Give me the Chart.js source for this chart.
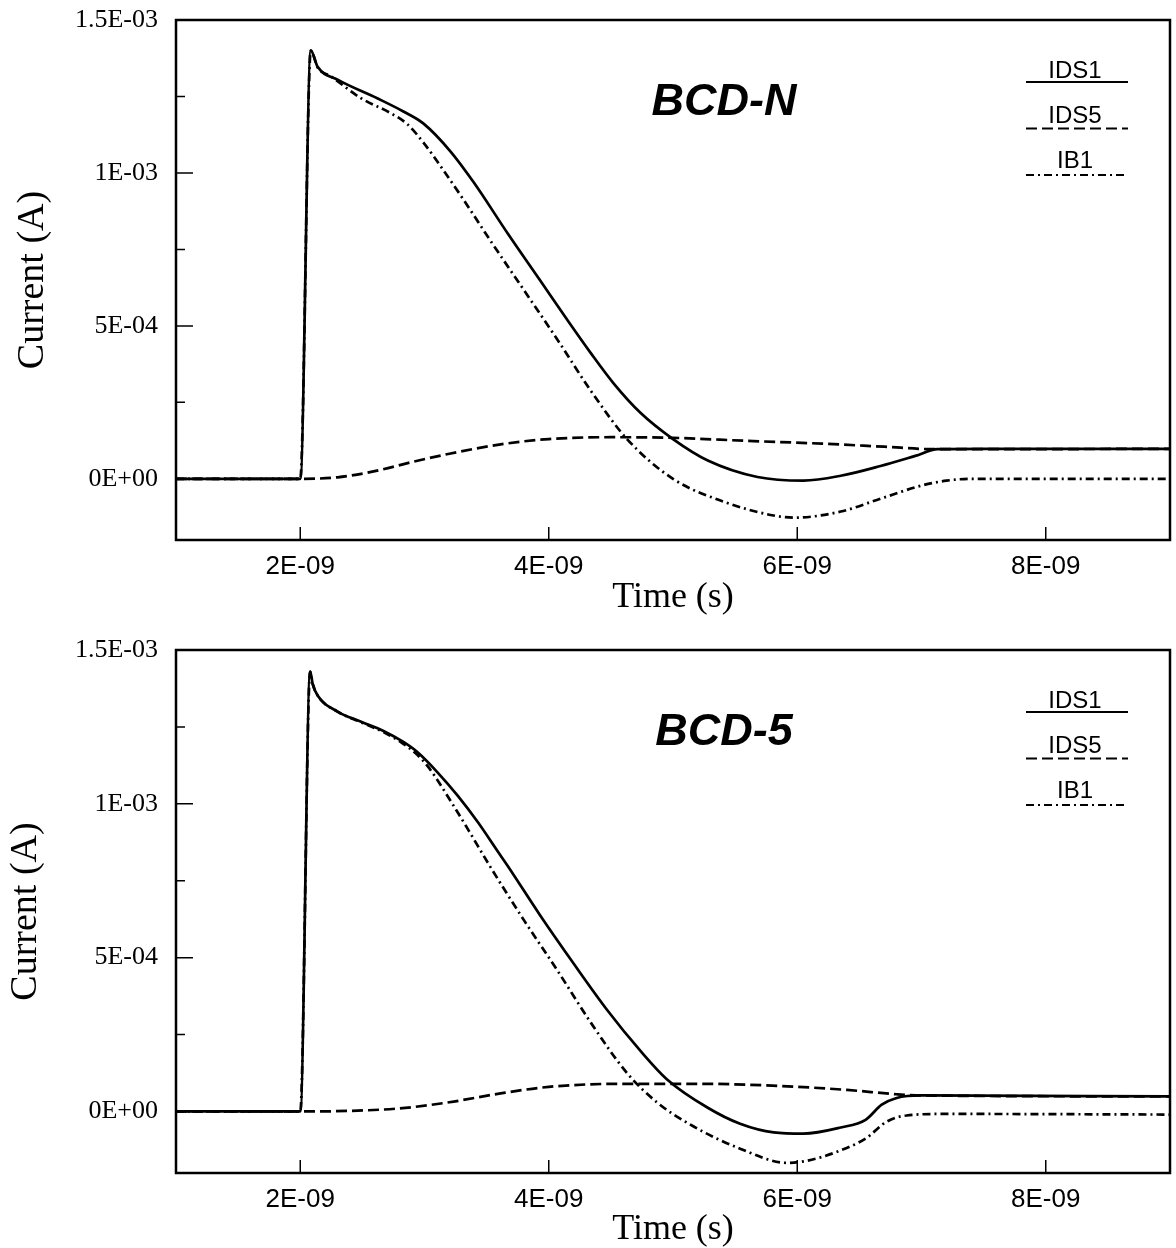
<!DOCTYPE html>
<html>
<head>
<meta charset="utf-8">
<title>BCD-N / BCD-5 transient currents</title>
<script src="https://cdn.jsdelivr.net/npm/chart.js@4.4.0/dist/chart.umd.min.js"></script>
<style>
  html, body { margin: 0; padding: 0; background: #fff; }
  .panel { position: relative; width: 1176px; height: 624px; }
  canvas { display: block; }
</style>
</head>
<body>
<div class="panel"><canvas id="chartN" width="1176" height="624"></canvas></div>
<div class="panel"><canvas id="chart5" width="1176" height="624"></canvas></div>
<script>
// units: time in ns, current in mA (converted to s / A when plotted)
const NS = 1e-9;
const MA = 1e-3;

const seriesNames = ['IDS1', 'IDS5', 'IB1'];
const xTicks = [2, 4, 6, 8];
const xTickLabels = ['2E-09', '4E-09', '6E-09', '8E-09'];
const yTicks = [0, 0.5, 1.0, 1.5];
const yTickLabels = ['0E+00', '5E-04', '1E-03', '1.5E-03'];
const yMinorTicks = [0.25, 0.75, 1.25];

// --- BCD-N (top) ---
const nIds1Time = [1.0, 2.0, 2.085, 2.14, 2.30, 2.62, 2.83, 2.99, 3.21, 3.40, 3.67, 3.93, 4.15, 4.34, 4.52, 4.74, 5.00, 5.28, 5.68, 6.05, 6.35, 6.67, 6.95, 7.13, 7.50, 9.0];
const nIds1 = [0, 0, 1.40, 1.347, 1.305, 1.244, 1.201, 1.162, 1.070, 0.967, 0.802, 0.649, 0.519, 0.410, 0.313, 0.215, 0.130, 0.060, 0.006, -0.006, 0.010, 0.042, 0.075, 0.097, 0.098, 0.098];
const nIds5Time = [1.0, 2.0, 2.3, 2.6, 2.9, 3.2, 3.6, 4.0, 4.5, 5.0, 5.6, 6.2, 6.7, 7.1, 7.5, 9.0];
const nIds5 = [0, 0, 0.005, 0.025, 0.055, 0.082, 0.112, 0.130, 0.136, 0.134, 0.124, 0.115, 0.105, 0.097, 0.097, 0.098];
const nIb1Time = [1.0, 2.0, 2.085, 2.14, 2.25, 2.49, 2.73, 2.86, 2.99, 3.15, 3.32, 3.53, 3.80, 4.07, 4.34, 4.63, 5.00, 5.41, 5.81, 5.97, 6.35, 6.67, 7.00, 7.20, 7.40, 9.0];
const nIb1 = [0, 0, 1.40, 1.345, 1.315, 1.244, 1.195, 1.160, 1.100, 1.010, 0.909, 0.779, 0.617, 0.455, 0.287, 0.130, 0.0, -0.075, -0.120, -0.127, -0.107, -0.065, -0.022, -0.006, 0.0, 0.0];

// --- BCD-5 (bottom) ---
const fIds1Time = [1.0, 2.0, 2.08, 2.10, 2.14, 2.30, 2.49, 2.67, 2.83, 2.94, 3.11, 3.27, 3.43, 3.59, 3.67, 3.93, 4.20, 4.47, 4.74, 4.95, 5.28, 5.54, 5.81, 6.05, 6.35, 6.55, 6.68, 6.80, 7.00, 9.0];
const fIds1 = [0, 0, 1.43, 1.39, 1.352, 1.30, 1.267, 1.237, 1.201, 1.169, 1.10, 1.025, 0.940, 0.845, 0.798, 0.638, 0.481, 0.330, 0.196, 0.105, 0.012, -0.040, -0.068, -0.072, -0.052, -0.027, 0.022, 0.044, 0.052, 0.049];
const fIds5Time = [1.0, 2.0, 2.4, 2.8, 3.2, 3.6, 4.0, 4.6, 5.2, 5.8, 6.4, 6.8, 7.0, 9.0];
const fIds5 = [0, 0, 0.002, 0.010, 0.030, 0.058, 0.080, 0.090, 0.090, 0.084, 0.070, 0.056, 0.052, 0.049];
const fIb1Time = [1.0, 2.0, 2.08, 2.10, 2.14, 2.30, 2.49, 2.67, 2.83, 2.94, 3.03, 3.24, 3.35, 3.53, 3.80, 4.07, 4.34, 4.63, 4.87, 5.14, 5.54, 5.92, 6.08, 6.32, 6.55, 6.72, 6.88, 7.20, 9.0];
const fIb1 = [0, 0, 1.43, 1.39, 1.352, 1.30, 1.265, 1.233, 1.195, 1.16, 1.120, 0.990, 0.917, 0.795, 0.622, 0.458, 0.288, 0.125, 0.030, -0.043, -0.121, -0.167, -0.160, -0.131, -0.088, -0.033, -0.013, -0.008, -0.010];

const lineDashes = [[], [11, 5], [8, 4, 2, 4]];

function toPoints(times, values) {
    return times.map((t, i) => ({ x: t * NS, y: values[i] * MA }));
}

// frame, inward ticks, panel title and legend
const frameAndLegend = {
    id: 'frameAndLegend',
    afterDatasetsDraw(chart, args, opts) {
        const ctx = chart.ctx;
        const { left, right, top, bottom } = chart.chartArea;
        const xs = chart.scales.x, ys = chart.scales.y;
        ctx.save();
        ctx.strokeStyle = '#000';
        ctx.fillStyle = '#000';
        ctx.setLineDash([]);
        ctx.lineWidth = 2.5;
        ctx.strokeRect(left, top, right - left, bottom - top);

        ctx.lineWidth = 1.5;
        ctx.beginPath();
        xTicks.forEach(v => {
            const px = xs.getPixelForValue(v * NS);
            ctx.moveTo(px, bottom);
            ctx.lineTo(px, bottom - 13);
        });
        yTicks.forEach(v => {
            const py = ys.getPixelForValue(v * MA);
            ctx.moveTo(left, py);
            ctx.lineTo(left + 17, py);
        });
        yMinorTicks.forEach(v => {
            const py = ys.getPixelForValue(v * MA);
            ctx.moveTo(left, py);
            ctx.lineTo(left + 9, py);
        });
        ctx.stroke();

        ctx.textAlign = 'center';
        ctx.textBaseline = 'alphabetic';
        ctx.font = 'italic bold 45px "Liberation Sans"';
        ctx.fillText(opts.title, left + 548, top + 95);

        ctx.font = '24px "Liberation Sans"';
        chart.data.datasets.forEach((ds, i) => {
            ctx.fillText(ds.label, right - 95, top + 58 + 45 * i);
            const ly = top + 62 + 46.5 * i;
            ctx.save();
            ctx.lineWidth = 2;
            ctx.setLineDash(ds.borderDash || []);
            ctx.beginPath();
            ctx.moveTo(right - 144, ly);
            ctx.lineTo(right - 42, ly);
            ctx.stroke();
            ctx.restore();
        });
        ctx.restore();
    }
};

function makeChart(id, title, series, lay) {
    const datasets = series.map((s, i) => ({
        label: seriesNames[i],
        data: toPoints(s[0], s[1]),
        borderColor: '#000',
        borderWidth: 2.7,
        borderDash: lineDashes[i],
        pointRadius: 0,
        fill: false,
        cubicInterpolationMode: 'monotone'
    }));

    return new Chart(document.getElementById(id), {
        type: 'line',
        data: { datasets: datasets },
        options: {
            responsive: false,
            animation: false,
            events: [],
            layout: { padding: { top: lay.padTop, right: 6, left: 0, bottom: 0 } },
            plugins: {
                legend: { display: false },
                tooltip: { enabled: false },
                frameAndLegend: { title: title }
            },
            scales: {
                x: {
                    type: 'linear',
                    min: 1 * NS,
                    max: 9 * NS,
                    grid: { display: false, drawTicks: false },
                    border: { display: false },
                    afterBuildTicks: s => { s.ticks = xTicks.map(v => ({ value: v * NS })); },
                    afterFit: s => {
                        s.height = lay.xHeight;
                        s.paddingLeft = 0;
                        s.paddingRight = 0;
                    },
                    ticks: {
                        color: '#000',
                        font: { family: 'Liberation Sans', size: 26 },
                        padding: 11,
                        maxRotation: 0,
                        autoSkip: false,
                        callback: (v, i) => xTickLabels[i]
                    },
                    title: {
                        display: true,
                        text: 'Time (s)',
                        color: '#000',
                        font: { family: 'Liberation Serif', size: 36, lineHeight: 1 },
                        padding: { top: 0, bottom: lay.xTitlePad }
                    }
                },
                y: {
                    type: 'linear',
                    min: -0.2 * MA,
                    max: 1.5 * MA,
                    grid: { display: false, drawTicks: false },
                    border: { display: false },
                    afterBuildTicks: s => { s.ticks = yTicks.map(v => ({ value: v * MA })); },
                    afterFit: s => {
                        s.width = 176;
                        s.paddingTop = 0;
                        s.paddingBottom = 0;
                    },
                    ticks: {
                        color: '#000',
                        font: { family: 'Liberation Serif', size: 26 },
                        padding: 18,
                        autoSkip: false,
                        callback: (v, i) => yTickLabels[i]
                    },
                    title: {
                        display: true,
                        text: 'Current (A)',
                        color: '#000',
                        font: { family: 'Liberation Serif', size: 38, lineHeight: 1 },
                        padding: { top: lay.yTitlePad, bottom: 0 }
                    }
                }
            }
        },
        plugins: [frameAndLegend]
    });
}

makeChart('chartN', 'BCD-N',
    [[nIds1Time, nIds1], [nIds5Time, nIds5], [nIb1Time, nIb1]],
    { padTop: 20, xHeight: 84, xTitlePad: 8, yTitlePad: 14 });

makeChart('chart5', 'BCD-5',
    [[fIds1Time, fIds1], [fIds5Time, fIds5], [fIb1Time, fIb1]],
    { padTop: 26, xHeight: 75, xTitlePad: 0, yTitlePad: 7 });
</script>
</body>
</html>
